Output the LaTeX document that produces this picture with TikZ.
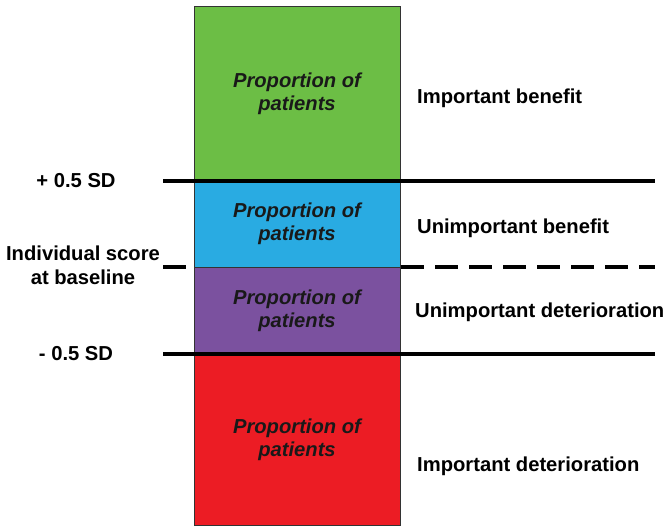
\documentclass[tikz,border=0pt]{standalone}
\usepackage{fontspec}
\setmainfont{Liberation Sans}
\definecolor{bandgreen}{HTML}{6CBE45}
\definecolor{bandblue}{HTML}{29ABE2}
\definecolor{bandpurple}{HTML}{7B519F}
\definecolor{bandred}{HTML}{EC1C24}
\begin{document}
\begin{tikzpicture}[x=1pt, y=-1pt,
        band/.style={rectangle, draw=black!80, line width=0.8pt, minimum width=206pt, inner sep=0pt, align=center, text=black!90, font=\fontsize{20.2}{23}\selectfont\bfseries\itshape},
        sidetext/.style={inner sep=0pt, align=center, font=\fontsize{20.2}{24}\selectfont\bfseries},
        level/.style={draw, line width=4pt},
        midline/.style={draw, line width=4pt, dash pattern=on 23pt off 11pt}
    ]
        \useasboundingbox (0,0) rectangle (666,529);

        % Level coordinates
        \coordinate (plusL) at (163,181);
        \coordinate (plusR) at (655,181);
        \coordinate (baseL) at (163,267);
        \coordinate (baseR) at (655,267);
        \coordinate (minusL) at (163,354);
        \coordinate (minusR) at (655,354);

        % Baseline (behind the bands)
        \draw[midline] (baseL) -- (baseR);

        % Bands
        \node[band, fill=bandgreen, minimum height=175pt] (green) at (297,93.5) {Proportion of\\patients};
        \node[band, fill=bandblue, minimum height=86pt] (blue) at (297,224) {Proportion of\\patients};
        \node[band, fill=bandpurple, minimum height=87pt] (purple) at (297,310.5) {Proportion of\\patients};
        \node[band, fill=bandred, minimum height=171pt] (red) at (297,439.5) {Proportion of\\patients};

        % Levels
        \draw[level] (plusL) -- (plusR);
        \draw[level] (minusL) -- (minusR);

        % Left labels
        \node[sidetext] (plus) at (76,181) {+ 0.5 SD};
        \node[sidetext] (base) at (83,265) {Individual score\\at baseline};
        \node[sidetext] (minus) at (76,354) {- 0.5 SD};

        % Right labels
        \node[sidetext, anchor=west] (impBenefit) at (417,98) {Important benefit};
        \node[sidetext, anchor=west] (unimpBenefit) at (417,228) {Unimportant benefit};
        \node[sidetext, anchor=west] (unimpDeter) at (415,312) {Unimportant deterioration};
        \node[sidetext, anchor=west] (impDeter) at (417,466) {Important deterioration};
    \end{tikzpicture}
\end{document}
